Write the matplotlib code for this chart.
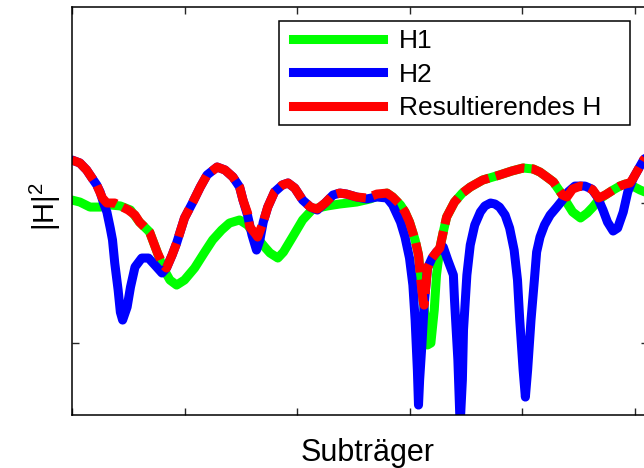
import matplotlib
matplotlib.use("Agg")
import matplotlib.pyplot as plt
from matplotlib.lines import Line2D
from matplotlib.patches import Rectangle

plt.rcParams['font.family'] = ['Liberation Sans', 'DejaVu Sans']

# subcarrier index / |H|^2 in dB
h1_x = [0, 7, 16, 25, 34, 43, 52, 60, 69, 76, 81, 87, 93, 100, 109, 118, 125, 133,
        140, 149, 156, 164, 172, 176, 183, 188, 196, 205, 214, 227, 238, 253, 265,
        274, 280, 285, 292, 296, 300, 305, 308, 310, 312, 315, 316, 319, 322, 324,
        327, 330, 333, 340, 347, 354, 365, 380, 391, 401, 410, 416, 422, 428, 431,
        436, 440, 445, 452, 458, 463, 468, 474, 481, 487, 492, 496, 500, 505, 512]
h1_y = [0.21, 0.07, -0.29, -0.29, -0.14, -0.21, -0.5, -1.36, -2.07, -3.57, -4.64,
        -5.5, -5.86, -5.5, -4.64, -3.5, -2.64, -1.93, -1.43, -1.21, -1.57, -2.43,
        -3.21, -3.57, -3.93, -3.5, -2.43, -1.21, -0.43, -0.21, -0.07, 0.07, 0.29,
        0.57, 0.71, 0.43, -0.14, -0.64, -1.36, -2.64, -3.71, -5.5, -6.93, -8.71,
        -10.14, -10.0, -7.64, -5.14, -3.21, -2.07, -1.0, 0.07, 0.71, 1.14, 1.64,
        2.0, 2.29, 2.5, 2.43, 2.21, 1.86, 1.5, 1.14, 0.57, 0.0, -0.64, -1.07, -0.71,
        -0.29, 0.21, 0.57, 0.93, 1.21, 1.36, 1.29, 1.14, 0.93, 0.7]

h2_x = [0, 7, 13, 19, 22, 25, 28, 31, 34, 36, 38, 41, 43, 45, 49, 52, 56, 62, 68,
        76, 80, 84, 89, 93, 100, 107, 114, 120, 129, 136, 143, 149, 152, 156, 160,
        164, 167, 170, 174, 180, 187, 192, 198, 205, 212, 218, 225, 232, 238, 244,
        253, 262, 271, 280, 285, 292, 296, 300, 303, 305, 307, 308, 309, 311, 313,
        315, 316, 320, 324, 330, 334, 339, 340, 343, 345, 347, 348, 351, 354, 358,
        363, 367, 372, 376, 380, 385, 389, 393, 396, 398, 401, 403, 405, 408, 411,
        413, 416, 420, 425, 431, 436, 441, 447, 456, 462, 467, 472, 476, 481, 485,
        490, 494, 499, 503, 508, 512]
h2_y = [3.07, 2.86, 2.36, 1.64, 1.29, 0.79, 0.0, -0.64, -1.79, -2.64, -4.29, -6.21,
        -7.8, -8.36, -7.43, -6.0, -4.57, -3.93, -3.93, -4.64, -5.0, -4.64, -3.71,
        -2.86, -1.07, 0.0, 1.14, 2.0, 2.57, 2.36, 1.86, 1.14, 0.21, -0.86, -2.29,
        -3.36, -2.64, -1.36, -0.29, 0.79, 1.29, 1.43, 1.07, 0.21, -0.29, -0.5, 0.0,
        0.57, 0.71, 0.64, 0.43, 0.29, 0.43, 0.36, -0.14, -1.36, -2.43, -3.93, -5.86,
        -8.36, -11.93, -14.43, -12.64, -10.14, -7.29, -5.5, -4.64, -3.93, -3.5,
        -3.14, -4.07, -5.14, -6.93, -11.2, -15.86, -12.64, -9.07, -5.14, -3.0,
        -1.57, -0.64, -0.21, 0.0, -0.07, -0.29, -0.86, -1.79, -3.36, -5.5, -8.36,
        -11.93, -13.86, -11.93, -8.36, -5.5, -3.5, -2.43, -1.57, -0.86, -0.29, 0.21,
        0.79, 1.21, 1.21, 1.0, 0.43, -0.5, -1.36, -2.0, -1.79, -0.64, 0.79, 1.79,
        2.36, 3.07, 3.4]

hr_x = [0, 7, 13, 19, 22, 27, 31, 38, 43, 50, 56, 60, 69, 76, 81, 84, 89, 93, 100,
        107, 114, 120, 129, 136, 143, 149, 152, 156, 158, 163, 165, 170, 174, 180,
        187, 192, 198, 205, 212, 218, 225, 232, 238, 244, 253, 262, 271, 280, 285,
        292, 296, 300, 305, 308, 310, 312, 313, 315, 316, 320, 324, 327, 330, 333,
        340, 347, 354, 365, 380, 391, 401, 410, 416, 422, 428, 431, 436, 440, 445,
        452, 458, 463, 468, 474, 481, 487, 492, 496, 499, 503, 508, 512]
hr_y = [3.07, 2.86, 2.36, 1.64, 1.29, 0.36, 0.0, 0.0, -0.21, -0.5, -0.86, -1.36,
        -2.07, -3.57, -4.43, -4.64, -3.71, -2.86, -1.07, 0.0, 1.14, 2.0, 2.57, 2.36,
        1.86, 1.14, 0.21, -0.71, -1.71, -2.2, -2.43, -1.36, -0.29, 0.79, 1.29, 1.43,
        1.07, 0.21, -0.29, -0.43, 0.0, 0.57, 0.71, 0.64, 0.43, 0.36, 0.64, 0.71,
        0.43, -0.14, -0.64, -1.36, -2.64, -3.71, -5.5, -6.93, -7.29, -5.5, -4.64,
        -3.93, -3.5, -3.21, -2.07, -1.0, 0.07, 0.71, 1.14, 1.64, 2.0, 2.29, 2.5,
        2.43, 2.21, 1.86, 1.5, 1.14, 0.57, 0.43, 1.0, 1.21, 1.14, 0.93, 0.36, 0.57,
        0.93, 1.21, 1.36, 1.43, 1.79, 2.36, 3.07, 3.4]

labels = ['H1', 'H2', 'Resultierendes H']

fig = plt.figure(figsize=(6.44, 4.68), dpi=100)
ax = fig.add_axes([72 / 644, 1 - 415 / 468, 576 / 644, 408 / 468])

lw = 6.5
ax.plot(h1_x, h1_y, color='#00ff00', lw=lw, solid_joinstyle='round', solid_capstyle='round')
ax.plot(h2_x, h2_y, color='#0000ff', lw=lw, solid_joinstyle='round', solid_capstyle='round')
ax.plot(hr_x, hr_y, color='#ff0000', lw=lw, dashes=(3.3, 0.8),
        dash_joinstyle='round', dash_capstyle='butt')

ax.set_xlim(0, 512)
ax.set_ylim(-15.14, 14)
ax.set_xticks([0, 100, 200, 300, 400, 500])
ax.set_yticks([-10, 0])
ax.set_xticklabels([])
ax.set_yticklabels([])
ax.tick_params(direction='in', length=5, width=1, top=True, right=True, color='#262626')
for s in ax.spines.values():
    s.set_linewidth(1.1)

ax.set_ylabel(r'$\mathregular{|H|^2}$', fontsize=21)
ax.yaxis.set_label_coords(-0.015, 0.51)
fig.text(368 / 644, 1 - 461 / 468, 'Subträger', fontsize=22, ha='center', va='baseline')

# legend: entries without frame, box drawn separately (MATLAB style padding)
handles = [Line2D([], [], color=c, lw=lw) for c in ['#00ff00', '#0000ff', '#ff0000']]
leg = ax.legend(handles, labels, loc='upper left', bbox_to_anchor=(293 / 644, 1 - 29 / 468),
                bbox_transform=fig.transFigure, fontsize=19, frameon=False,
                handlelength=3.4, handletextpad=0.6, labelspacing=0.36, borderpad=0,
                borderaxespad=0)
leg.set_zorder(6)
ax.add_patch(Rectangle((279 / 644, 1 - 125 / 468), 351 / 644, 104 / 468,
                       transform=fig.transFigure, facecolor='white',
                       edgecolor='black', lw=1.1, zorder=5, clip_on=False))

fig.savefig('out.png', dpi=100)
